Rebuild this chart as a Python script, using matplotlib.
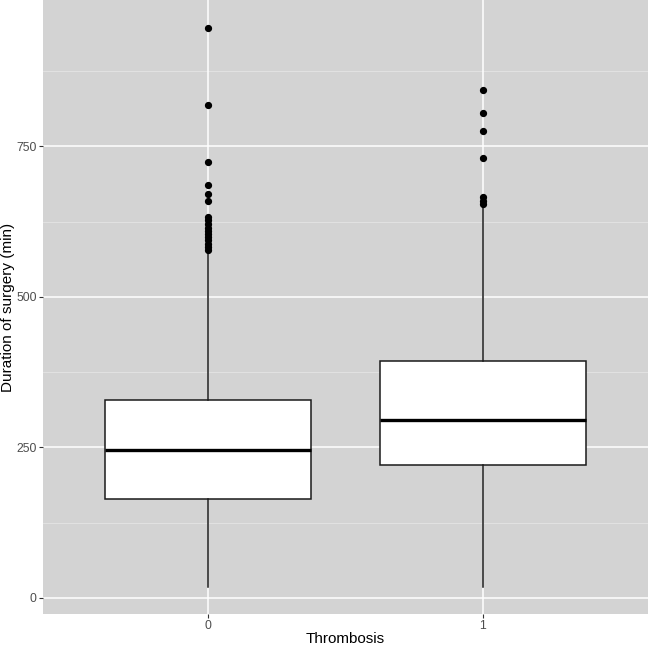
import numpy as np
import matplotlib.pyplot as plt

# Boxplot summary stats (minutes)
groups = ["0", "1"]
q1 = [165, 220]
median = [245, 295]
q3 = [329, 393]
whisker_low = [18, 18]
whisker_high = [575, 650]
outliers_0 = [946, 818, 724, 685, 671, 659, 633, 627, 621, 615, 610, 605, 599, 594, 588, 583, 578]
outliers_1 = [843, 805, 776, 730, 666, 660, 655]
outliers = [outliers_0, outliers_1]

plt.rcParams['font.family'] = ['Liberation Sans', 'DejaVu Sans']

stats = []
for i, g in enumerate(groups):
    stats.append(dict(label=g, q1=q1[i], med=median[i], q3=q3[i],
                      whislo=whisker_low[i], whishi=whisker_high[i],
                      fliers=outliers[i]))

fig = plt.figure(figsize=(6.49, 6.47), dpi=100)
ax = fig.add_axes([43 / 649, 33 / 647, 605 / 649, 614 / 647])
ax.set_facecolor('#D3D3D3')

# grid: major and minor, ggplot style
for y in [125, 375, 625, 875]:
    ax.axhline(y, color='#E4E4E4', lw=0.6, zorder=0)
for y in [0, 250, 500, 750]:
    ax.axhline(y, color='white', lw=1.1, zorder=0)
for x in [1, 2]:
    ax.axvline(x, color='white', lw=1.1, zorder=0)

ax.bxp(stats, positions=[1, 2], widths=0.75, patch_artist=True, showcaps=False,
       boxprops=dict(facecolor='white', edgecolor='#1a1a1a', linewidth=1.1),
       medianprops=dict(color='black', linewidth=2.4),
       whiskerprops=dict(color='#1a1a1a', linewidth=1.1),
       flierprops=dict(marker='o', markerfacecolor='black', markeredgecolor='black',
                       markersize=4.2, linestyle='none'),
       zorder=3)

ax.set_xlim(0.4, 2.6)
ax.set_ylim(-26.6, 993)
ax.set_yticks([0, 250, 500, 750])
ax.set_xticks([1, 2])
ax.set_xticklabels(groups)
for s in ax.spines.values():
    s.set_visible(False)
ax.tick_params(axis='both', length=3, width=0.8, color='#333333', labelcolor='#4D4D4D',
               labelsize=8.8, pad=1.5)
ax.set_xlabel('Thrombosis', fontsize=11, va='center')
ax.set_ylabel('Duration of surgery (min)', fontsize=11, va='center')
ax.xaxis.set_label_coords(0.5, -0.040)
ax.yaxis.set_label_coords(-0.058, 0.5)

fig.savefig('out.png', dpi=100)
